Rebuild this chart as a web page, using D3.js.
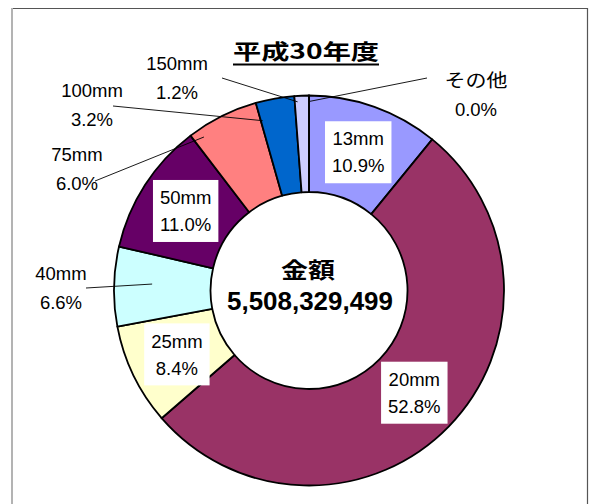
<!DOCTYPE html>
<html>
<head>
<meta charset="utf-8">
<script src="https://cdn.jsdelivr.net/npm/d3@7"></script>
<style>
  body { margin: 0; background: #fff; }
</style>
</head>
<body>
<svg></svg>
<script>
// data
const sizes = ["13mm", "20mm", "25mm", "40mm", "50mm", "75mm", "100mm", "150mm", "その他"]
const shares = [10.9, 52.8, 8.4, 6.6, 11.0, 6.0, 3.2, 1.2, 0.0]
const colors = ["#9999ff", "#993366", "#ffffcc", "#ccffff", "#660066", "#ff8080", "#0066cc", "#ccccff", "#000080"]
const title = "平成30年度"
const centerTitle = "金額"
const total = 5508329499

const W = 589, H = 504
const cx = 309, cy = 290.5
const outerR = 195, innerR = 98.5
const latin = "'Liberation Sans', Arial, 'Noto Sans CJK JP', sans-serif"
const cjk = "'Noto Sans CJK JP', sans-serif"

// labels moved out of the ring, with leader lines (t = position inside the slice)
const outside = {
  "40mm":  { x: 61,  y: 273, from: [86, 288],  t: 0.55, r: 157 },
  "75mm":  { x: 77,  y: 154, from: [95, 181],  t: 0.14, r: 186 },
  "100mm": { x: 92,  y: 90,  from: [113, 106], t: 0.05, r: 176 },
  "150mm": { x: 177, y: 63,  from: [222, 78],  t: 0.2,  r: 189 },
  "その他": { x: 476, y: 80,  from: [427, 78],  t: 1,    r: 189 }
}

const svg = d3.select("svg").attr("width", W).attr("height", H)

// chart frame
svg.append("line").attr("x1", 11).attr("x2", 588).attr("y1", 8.5).attr("y2", 8.5)
  .attr("stroke", "#555").attr("stroke-width", 1.2)
svg.append("line").attr("x1", 587.5).attr("x2", 587.5).attr("y1", 8).attr("y2", H)
  .attr("stroke", "#555").attr("stroke-width", 1.2)
svg.append("line").attr("x1", 12).attr("x2", 12).attr("y1", 8).attr("y2", H)
  .attr("stroke", "#b3b3b3").attr("stroke-width", 2)

const pie = d3.pie().sort(null).value(d => d)
const arcs = pie(shares)
const arc = d3.arc().innerRadius(innerR).outerRadius(outerR)

const g = svg.append("g").attr("transform", `translate(${cx},${cy})`)

g.selectAll("path")
  .data(arcs)
  .enter()
  .append("path")
  .attr("d", arc)
  .attr("fill", (d, i) => colors[i])
  .attr("stroke", "#000")
  .attr("stroke-width", 1.8)
  .attr("stroke-linejoin", "round")

const fmtPct = d3.format(".1f")
const fs = 18.5
const lineGap = 27

// labels inside the ring
arcs.forEach((d, i) => {
  const name = sizes[i]
  if (outside[name]) return
  const [x, y] = arc.centroid(d)
  const lab = g.append("g").attr("transform", `translate(${x},${y})`)
  const box = lab.append("rect").attr("fill", "#fff")
  const t1 = lab.append("text").attr("y", -lineGap / 2 + fs * 0.36).text(name)
  const t2 = lab.append("text").attr("y", lineGap / 2 + fs * 0.36).text(fmtPct(shares[i]) + "%")
  lab.selectAll("text").attr("text-anchor", "middle")
    .style("font-family", latin).style("font-size", fs + "px").attr("fill", "#000")
  const w = Math.max(t1.node().getComputedTextLength(), t2.node().getComputedTextLength()) + 14
  const h = 62
  box.attr("x", -w / 2).attr("y", -h / 2).attr("width", w).attr("height", h)
})

// labels outside with leader lines
arcs.forEach((d, i) => {
  const name = sizes[i]
  const o = outside[name]
  if (!o) return
  const a = d.startAngle + (d.endAngle - d.startAngle) * o.t
  const ex = cx + o.r * Math.sin(a), ey = cy - o.r * Math.cos(a)
  svg.append("line")
    .attr("x1", o.from[0]).attr("y1", o.from[1])
    .attr("x2", ex).attr("y2", ey)
    .attr("stroke", "#000").attr("stroke-width", 0.9)
  const t1 = svg.append("text").attr("x", o.x).attr("y", o.y + fs * 0.36).text(name)
  svg.append("text").attr("x", o.x).attr("y", o.y + 29 + fs * 0.36).text(fmtPct(shares[i]) + "%")
  if (/[^\x00-\x7f]/.test(name)) t1.attr("textLength", 63).attr("lengthAdjust", "spacingAndGlyphs")
})
svg.selectAll("text:not([style])").attr("text-anchor", "middle")
  .style("font-family", latin).style("font-size", fs + "px").attr("fill", "#000")

// center text
svg.append("text")
  .attr("x", cx - 1).attr("y", 267.5)
  .attr("text-anchor", "middle").attr("dominant-baseline", "central")
  .attr("textLength", 54).attr("lengthAdjust", "spacingAndGlyphs")
  .style("font-family", cjk).style("font-size", "22px").style("font-weight", "bold")
  .text(centerTitle)
svg.append("text")
  .attr("x", 310).attr("y", 310)
  .attr("text-anchor", "middle")
  .attr("textLength", 166).attr("lengthAdjust", "spacingAndGlyphs")
  .style("font-family", latin).style("font-size", "25px").style("font-weight", "bold")
  .text(d3.format(",")(total))

// title
svg.append("text")
  .attr("x", 306).attr("y", 50)
  .attr("text-anchor", "middle").attr("dominant-baseline", "central")
  .attr("textLength", 146).attr("lengthAdjust", "spacingAndGlyphs")
  .style("font-family", cjk).style("font-size", "21px").style("font-weight", "bold")
  .text(title)
svg.append("line")
  .attr("x1", 306 - 73).attr("x2", 306 + 73).attr("y1", 64.5).attr("y2", 64.5)
  .attr("stroke", "#000").attr("stroke-width", 2)
</script>
</body>
</html>
